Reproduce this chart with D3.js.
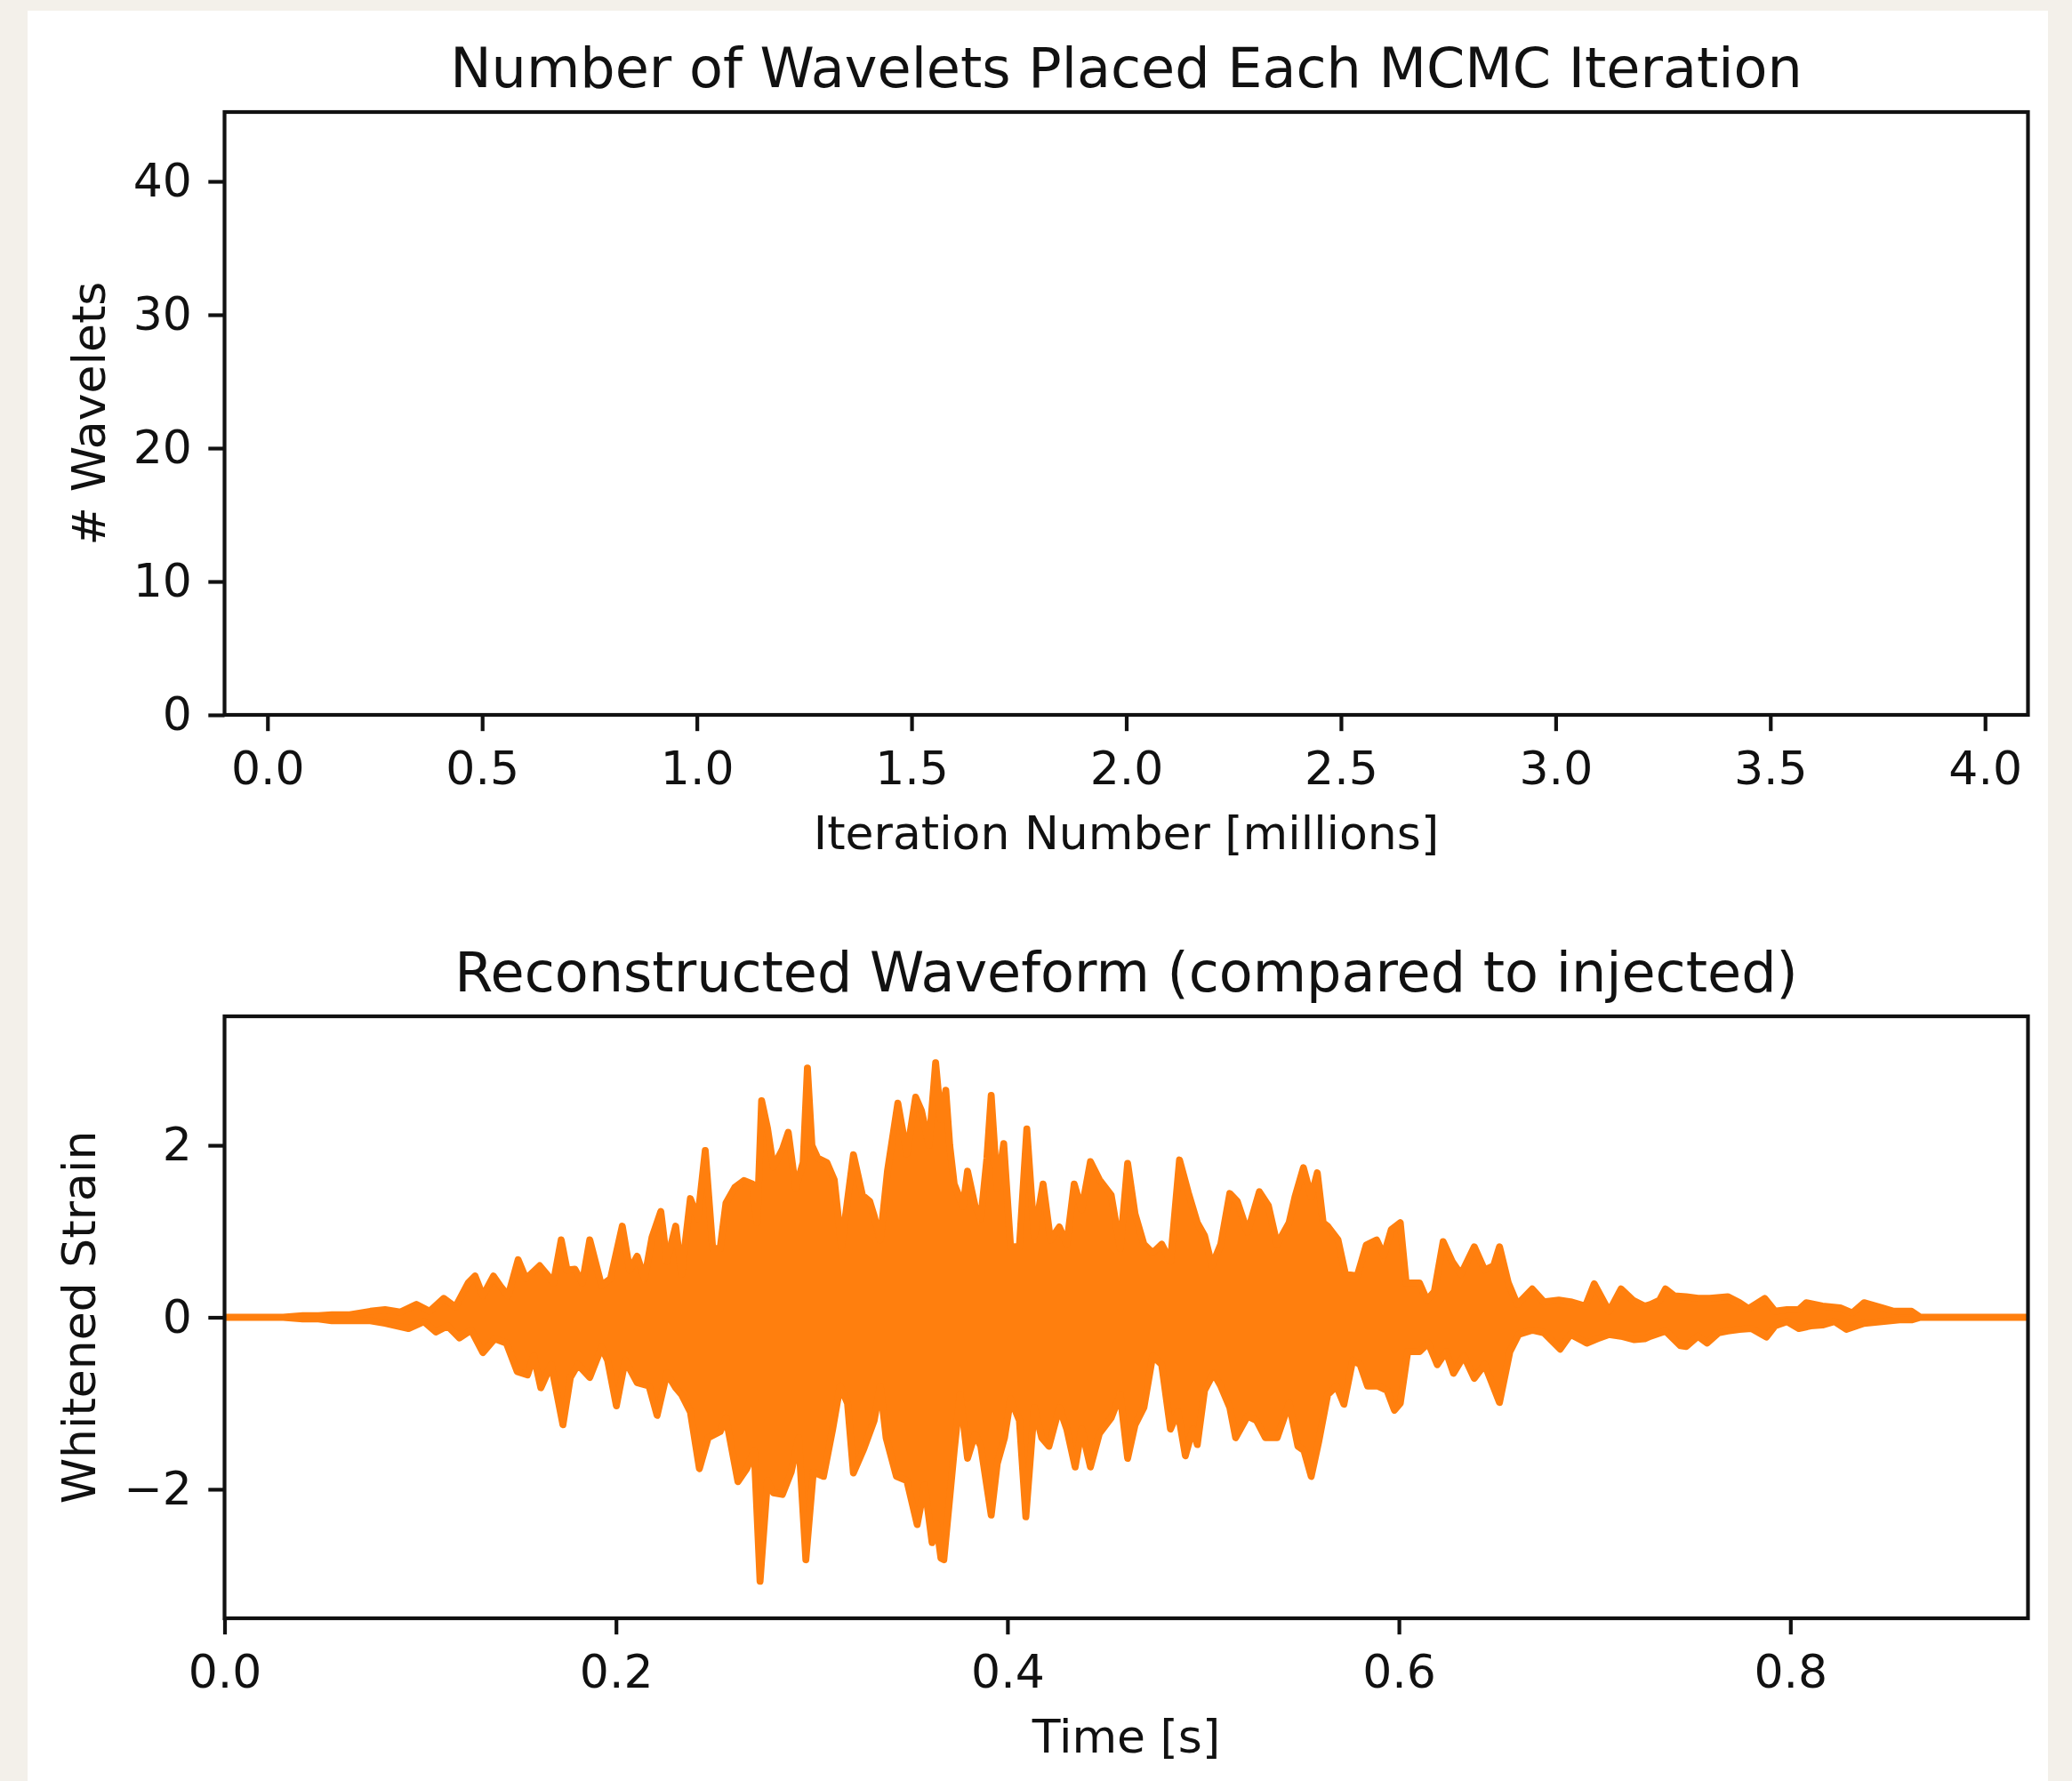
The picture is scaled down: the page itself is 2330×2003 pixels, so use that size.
<!DOCTYPE html>
<html>
<head>
<meta charset="utf-8">
<script src="https://cdn.jsdelivr.net/npm/d3@7"></script>
<style>
  html, body { margin: 0; padding: 0; background: #f3f0ea; }
  svg { display: block; }
  text { font-family: "DejaVu Sans", sans-serif; fill: #111; }
</style>
</head>
<body>
<svg id="chart" width="2330" height="2003"></svg>
<script>
// ---------------- DATA ----------------
// Top panel: number of wavelets per MCMC iteration (panel is empty in the reference)
const waveletIterations = [];   // millions
const waveletCounts = [];
const topXTicks = [0.0, 0.5, 1.0, 1.5, 2.0, 2.5, 3.0, 3.5, 4.0];
const topXTickLabels = ["0.0", "0.5", "1.0", "1.5", "2.0", "2.5", "3.0", "3.5", "4.0"];
const topYTicks = [0, 10, 20, 30, 40];
const topYTickLabels = ["0", "10", "20", "30", "40"];
const topTitle = "Number of Wavelets Placed Each MCMC Iteration";
const topXLabel = "Iteration Number [millions]";
const topYLabel = "# Wavelets";

// Bottom panel: reconstructed whitened-strain waveform, read as its upper and lower envelope [time s, strain]
const strainUpper = [[0,0],[0.030,0.0],[0.040,0.02],[0.048,0.02],[0.0548,0.03],[0.064,0.03],[0.0745,0.07],[0.082,0.09],[0.0897,0.06],[0.098,0.15],[0.1048,0.07],[0.112,0.22],[0.118,0.12],[0.1245,0.40],[0.128,0.48],[0.132,0.25],[0.1374,0.48],[0.141,0.36],[0.1449,0.25],[0.150,0.67],[0.154,0.45],[0.161,0.60],[0.1654,0.48],[0.168,0.40],[0.172,0.90],[0.175,0.55],[0.179,0.56],[0.1828,0.40],[0.1866,0.90],[0.1926,0.37],[0.1972,0.45],[0.2032,1.06],[0.207,0.55],[0.2108,0.71],[0.2146,0.45],[0.2184,0.93],[0.2229,1.23],[0.226,0.65],[0.2305,1.06],[0.2335,0.50],[0.238,1.38],[0.2418,1.15],[0.2456,1.94],[0.2494,0.80],[0.2532,0.80],[0.2562,1.33],[0.2607,1.51],[0.2653,1.59],[0.2698,1.55],[0.2721,1.10],[0.2744,2.52],[0.2774,2.20],[0.2804,1.75],[0.285,1.95],[0.288,2.15],[0.2918,1.50],[0.2956,1.80],[0.2978,2.90],[0.3001,2.00],[0.3031,1.85],[0.3077,1.80],[0.3115,1.60],[0.3152,0.82],[0.3213,1.89],[0.3259,1.42],[0.3296,1.35],[0.3319,1.18],[0.335,0.90],[0.3387,1.70],[0.344,2.49],[0.3486,1.90],[0.3531,2.56],[0.3561,2.40],[0.3599,2.00],[0.3633,2.96],[0.366,2.30],[0.3685,2.64],[0.3705,2.00],[0.3728,1.55],[0.3773,1.29],[0.3796,1.70],[0.3834,1.30],[0.3864,1.15],[0.3895,1.85],[0.3917,2.58],[0.3948,1.50],[0.3981,2.02],[0.4016,0.82],[0.4061,0.82],[0.4099,2.19],[0.4137,0.95],[0.4182,1.55],[0.422,0.90],[0.4265,1.05],[0.4303,0.85],[0.4341,1.55],[0.4379,1.25],[0.4424,1.81],[0.447,1.60],[0.453,1.42],[0.4576,0.80],[0.4614,1.79],[0.4652,1.20],[0.4697,0.85],[0.4742,0.75],[0.4788,0.85],[0.4833,0.65],[0.4879,1.83],[0.4924,1.45],[0.497,1.10],[0.5007,0.95],[0.5045,0.60],[0.509,0.85],[0.5136,1.44],[0.5174,1.35],[0.5227,0.99],[0.5287,1.46],[0.5333,1.30],[0.5378,0.85],[0.5439,1.10],[0.5469,1.40],[0.5512,1.74],[0.5552,1.40],[0.5583,1.68],[0.5613,1.10],[0.5636,1.06],[0.5689,0.90],[0.5727,0.50],[0.5787,0.48],[0.5833,0.84],[0.5886,0.90],[0.5923,0.72],[0.5961,1.02],[0.6007,1.10],[0.6037,0.40],[0.6105,0.40],[0.6143,0.20],[0.6181,0.30],[0.6226,0.88],[0.6272,0.65],[0.6317,0.50],[0.6385,0.82],[0.6438,0.55],[0.6484,0.60],[0.6514,0.82],[0.6559,0.40],[0.6605,0.15],[0.6681,0.33],[0.6741,0.18],[0.6817,0.20],[0.6877,0.18],[0.6953,0.13],[0.6998,0.39],[0.7074,0.07],[0.7135,0.33],[0.7195,0.20],[0.7256,0.13],[0.7286,0.15],[0.7332,0.20],[0.7362,0.33],[0.7407,0.25],[0.7468,0.24],[0.7528,0.22],[0.7589,0.22],[0.768,0.24],[0.774,0.17],[0.7786,0.10],[0.7869,0.22],[0.7922,0.07],[0.7983,0.09],[0.8043,0.09],[0.8081,0.17],[0.8164,0.13],[0.8255,0.11],[0.8316,0.05],[0.8376,0.17],[0.8467,0.11],[0.8528,0.07],[0.8619,0.07],[0.8664,0.0],[0.9214,0]];
const strainLower = [[0,0],[0.030,0],[0.040,-0.02],[0.048,-0.02],[0.0548,-0.04],[0.0745,-0.04],[0.082,-0.07],[0.094,-0.13],[0.1018,-0.05],[0.108,-0.17],[0.1139,-0.10],[0.120,-0.24],[0.126,-0.15],[0.132,-0.41],[0.138,-0.25],[0.144,-0.30],[0.1495,-0.63],[0.1548,-0.67],[0.158,-0.45],[0.1616,-0.82],[0.1669,-0.55],[0.1729,-1.25],[0.1767,-0.70],[0.1805,-0.55],[0.1866,-0.70],[0.1926,-0.35],[0.1957,-0.50],[0.2002,-1.03],[0.2047,-0.50],[0.2108,-0.76],[0.2169,-0.80],[0.221,-1.14],[0.226,-0.65],[0.2305,-0.82],[0.2335,-0.90],[0.238,-1.10],[0.2426,-1.76],[0.2471,-1.40],[0.2532,-1.33],[0.2562,-1.17],[0.2623,-1.91],[0.2668,-1.76],[0.2706,-1.55],[0.2736,-3.07],[0.2774,-1.90],[0.2804,-2.04],[0.285,-2.06],[0.2895,-1.80],[0.2933,-1.40],[0.297,-2.82],[0.3008,-1.80],[0.306,-1.85],[0.3107,-1.30],[0.3145,-0.80],[0.3183,-1.00],[0.3213,-1.81],[0.3266,-1.53],[0.3319,-1.20],[0.335,-0.80],[0.338,-1.40],[0.3433,-1.85],[0.3486,-1.90],[0.3539,-2.41],[0.3577,-1.95],[0.3615,-2.62],[0.3637,-2.40],[0.366,-2.80],[0.3675,-2.82],[0.3705,-2.10],[0.3728,-1.55],[0.3758,-0.90],[0.3796,-1.64],[0.3834,-1.36],[0.3864,-1.50],[0.3917,-2.30],[0.3948,-1.70],[0.3985,-1.40],[0.4016,-0.95],[0.4061,-1.20],[0.4094,-2.32],[0.4137,-1.05],[0.4175,-1.40],[0.4212,-1.50],[0.4265,-1.05],[0.4303,-1.30],[0.4346,-1.74],[0.4379,-1.30],[0.4424,-1.74],[0.447,-1.35],[0.453,-1.17],[0.4576,-0.90],[0.4614,-1.64],[0.4652,-1.25],[0.4697,-1.05],[0.4742,-0.45],[0.4788,-0.55],[0.4833,-1.30],[0.4871,-1.10],[0.4909,-1.61],[0.4947,-1.30],[0.497,-1.48],[0.5007,-0.85],[0.5053,-0.65],[0.509,-0.80],[0.5136,-1.05],[0.5166,-1.40],[0.5227,-1.15],[0.5272,-1.20],[0.5318,-1.40],[0.5378,-1.40],[0.5439,-1.00],[0.5484,-1.50],[0.5515,-1.55],[0.5552,-1.85],[0.559,-1.45],[0.5636,-0.90],[0.5681,-0.80],[0.5719,-1.01],[0.5764,-0.50],[0.5802,-0.55],[0.584,-0.80],[0.5893,-0.80],[0.5939,-0.85],[0.5977,-1.08],[0.6007,-1.00],[0.6045,-0.40],[0.6105,-0.40],[0.615,-0.30],[0.6196,-0.55],[0.6241,-0.40],[0.6279,-0.65],[0.6332,-0.45],[0.6385,-0.71],[0.6438,-0.55],[0.6514,-0.99],[0.6567,-0.40],[0.6612,-0.20],[0.6681,-0.15],[0.6741,-0.18],[0.6824,-0.37],[0.6877,-0.20],[0.696,-0.30],[0.7014,-0.25],[0.7074,-0.20],[0.7135,-0.22],[0.7203,-0.26],[0.7256,-0.25],[0.7286,-0.22],[0.7362,-0.16],[0.7438,-0.33],[0.7468,-0.34],[0.7528,-0.22],[0.7574,-0.30],[0.7634,-0.18],[0.768,-0.16],[0.774,-0.14],[0.7801,-0.13],[0.7877,-0.23],[0.7922,-0.10],[0.7983,-0.05],[0.8043,-0.13],[0.8104,-0.10],[0.8164,-0.09],[0.8225,-0.05],[0.8286,-0.14],[0.8376,-0.07],[0.8467,-0.05],[0.8558,-0.03],[0.8619,-0.03],[0.8664,0],[0.9214,0]];
const botXTicks = [0.0, 0.2, 0.4, 0.6, 0.8];
const botXTickLabels = ["0.0", "0.2", "0.4", "0.6", "0.8"];
const botYTicks = [-2, 0, 2];
const botYTickLabels = ["\u22122", "0", "2"];
const botTitle = "Reconstructed Waveform (compared to injected)";
const botXLabel = "Time [s]";
const botYLabel = "Whitened Strain";

// ---------------- LAYOUT ----------------
const W = 2330, H = 2003;
const axL = 252.5, axR = 2280.5;
const top1 = 126, bot1 = 804;
const top2 = 1143, bot2 = 1820;
const cx = (axL + axR) / 2;
const tickFont = 52, titleFont = 62;
const tickLen = 18.2, lw = 4.2, lineW = 7.8;
const ink = "#111";
const orange = "#ff7f0e";

const svg = d3.select("#chart");

// background card
svg.append("rect").attr("x", 0).attr("y", 0).attr("width", W).attr("height", H).attr("fill", "#f3f0ea");
svg.append("rect").attr("x", 31).attr("y", 12).attr("width", 2303 - 31).attr("height", H - 12).attr("fill", "#ffffff");

function drawPanel(opts) {
  const { x, y, top, bottom, xTicks, xLabels, yTicks, yLabels, title, xLabel, yLabel, yLabelX } = opts;
  const g = svg.append("g");

  const xAxis = d3.axisBottom(x).tickValues(xTicks)
    .tickFormat((d, i) => xLabels[i]).tickSize(tickLen).tickSizeOuter(0).tickPadding(22.8);
  const gx = g.append("g").attr("transform", `translate(0,${bottom})`).call(xAxis);
  gx.select(".domain").remove();
  gx.selectAll(".tick line").attr("stroke", ink).attr("stroke-width", lw);
  gx.selectAll(".tick text").attr("font-size", tickFont).attr("font-family", "DejaVu Sans").attr("fill", ink);

  const yAxis = d3.axisLeft(y).tickValues(yTicks)
    .tickFormat((d, i) => yLabels[i]).tickSize(tickLen).tickSizeOuter(0).tickPadding(18.5);
  const gy = g.append("g").attr("transform", `translate(${axL},0)`).call(yAxis);
  gy.select(".domain").remove();
  gy.selectAll(".tick line").attr("stroke", ink).attr("stroke-width", lw);
  gy.selectAll(".tick text").attr("font-size", tickFont).attr("font-family", "DejaVu Sans").attr("fill", ink);

  g.append("text").attr("x", cx).attr("y", top - 28).attr("text-anchor", "middle")
    .attr("font-size", titleFont).text(title);
  g.append("text").attr("x", cx).attr("y", bottom + 151).attr("text-anchor", "middle")
    .attr("font-size", tickFont).text(xLabel);
  g.append("text").attr("transform", `translate(${yLabelX},${(top + bottom) / 2}) rotate(-90)`)
    .attr("text-anchor", "middle").attr("font-size", tickFont).text(yLabel);
  return g;
}

// ---------------- TOP PANEL ----------------
const x1 = d3.scaleLinear().domain([-0.1, 4.1]).range([axL, axR]);
const y1 = d3.scaleLinear().domain([0, 45.2]).range([bot1, top1]);
drawPanel({ x: x1, y: y1, top: top1, bottom: bot1, xTicks: topXTicks, xLabels: topXTickLabels,
  yTicks: topYTicks, yLabels: topYTickLabels, title: topTitle, xLabel: topXLabel, yLabel: topYLabel, yLabelX: 118 });

// (no wavelet-count data is drawn in the reference)
svg.append("path")
  .datum(waveletIterations.map((t, i) => [t, waveletCounts[i]]))
  .attr("fill", "none").attr("stroke", "#1f77b4").attr("stroke-width", lineW)
  .attr("d", d3.line().x(d => x1(d[0])).y(d => y1(d[1])));

svg.append("rect").attr("x", axL).attr("y", top1).attr("width", axR - axL).attr("height", bot1 - top1)
  .attr("fill", "none").attr("stroke", ink).attr("stroke-width", lw);

// ---------------- BOTTOM PANEL ----------------
const x2 = d3.scaleLinear().domain([0, 0.9214]).range([axL, axR]);
const y2 = d3.scaleLinear().domain([-3.5, 3.5]).range([bot2, top2]);
drawPanel({ x: x2, y: y2, top: top2, bottom: bot2, xTicks: botXTicks, xLabels: botXTickLabels,
  yTicks: botYTicks, yLabels: botYTickLabels, title: botTitle, xLabel: botXLabel, yLabel: botYLabel, yLabelX: 107 });

svg.append("clipPath").attr("id", "clip2").append("rect")
  .attr("x", axL).attr("y", top2).attr("width", axR - axL).attr("height", bot2 - top2);

const outline = strainUpper.concat(strainLower.slice().reverse());
const lineGen = d3.line().x(d => x2(d[0])).y(d => y2(d[1]));
svg.append("path")
  .attr("clip-path", "url(#clip2)")
  .attr("d", lineGen(outline) + "Z")
  .attr("fill", orange).attr("stroke", orange)
  .attr("stroke-width", lineW).attr("stroke-linejoin", "round");

svg.append("rect").attr("x", axL).attr("y", top2).attr("width", axR - axL).attr("height", bot2 - top2)
  .attr("fill", "none").attr("stroke", ink).attr("stroke-width", lw);
</script>
</body>
</html>
